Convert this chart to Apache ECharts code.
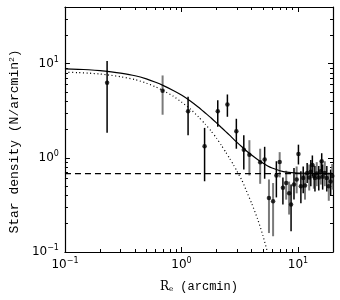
<!DOCTYPE html>
<html><head><meta charset="utf-8">
<script src="https://cdn.jsdelivr.net/npm/echarts@6/dist/echarts.min.js"></script>
<style>html,body{margin:0;padding:0;background:#fff}#c{width:340px;height:300px}</style>
</head><body><div id="c"></div>
<script>
// Observed radial bins (arcmin), star density and 1-sigma error bar ends
const radius  = [0.230,0.689,1.14,1.58,2.05,2.48,2.96,3.43,3.83,4.74,5.18,5.64,6.12,6.53,6.97,7.43,7.93,8.40,8.73,9.25,9.75,10.1,10.6,11.1,11.5,12.0,12.5,12.9,13.3,13.7,14.0,14.5,15.1,15.7,16.0,16.3,17.0,17.7,18.4,19.1,19.7];
const density = [6.28,5.16,3.13,1.33,3.13,3.69,1.92,1.22,1.08,0.90,0.96,0.375,0.345,0.65,0.906,0.48,0.54,0.42,0.32,0.52,0.59,1.10,0.50,0.61,0.51,0.69,0.62,0.71,0.84,0.64,0.61,0.68,0.62,0.72,0.92,0.63,0.69,0.61,0.50,0.56,0.64];
const errLow  = [1.85,2.87,1.74,0.564,2.14,2.73,1.25,0.75,0.65,0.53,0.60,0.159,0.147,0.38,0.62,0.32,0.36,0.25,0.166,0.36,0.42,0.85,0.33,0.42,0.36,0.54,0.45,0.50,0.64,0.47,0.44,0.50,0.45,0.52,0.70,0.46,0.50,0.44,0.35,0.40,0.46];
const errHigh = [10.7,7.5,4.46,2.08,4.10,4.71,2.60,1.74,1.54,1.25,1.31,0.59,0.54,0.92,1.15,0.62,0.73,0.56,0.52,0.78,0.81,1.38,0.72,0.81,0.70,0.88,0.85,0.95,1.06,0.85,0.82,0.90,0.82,0.95,1.12,0.85,0.92,0.82,0.70,0.75,0.86];
const barTone = ['k','g','k','k','k','k','k','k','g','g','k','g','g','k','g','k','g','g','k','k','g','k','k','k','g','k','g','k','k','g','k','g','k','g','k','k','g','k','g','k','g'];
// Fitted profile: King model + background (solid)
const fitR     = [0.1,0.13,0.16,0.2,0.25,0.3,0.4,0.5,0.6,0.7,0.85,1.0,1.2,1.4,1.6,1.8,2.0,2.2,2.4,2.6,2.8,3.0,3.3,3.6,4.0,4.5,5.0,5.5,6,7,8,10,14,20];
const fitTotal = [8.8,8.72,8.62,8.45,8.2,7.95,7.45,6.9,6.35,5.85,5.2,4.65,4.0,3.45,3.0,2.65,2.35,2.1,1.9,1.73,1.58,1.46,1.31,1.19,1.07,0.96,0.88,0.82,0.78,0.73,0.705,0.69,0.68,0.68];
// King model alone (dotted)
const kingR    = [0.1,0.13,0.16,0.2,0.25,0.3,0.4,0.5,0.6,0.7,0.85,1.0,1.2,1.4,1.6,1.8,2.0,2.2,2.4,2.6,2.8,3.0,3.3,3.6,4.0,4.5,5.0,5.5,6.0];
const kingOnly = [8.12,8.04,7.94,7.77,7.52,7.27,6.77,6.22,5.67,5.17,4.52,3.92,3.28,2.72,2.28,1.92,1.62,1.36,1.15,0.98,0.84,0.72,0.58,0.45,0.33,0.225,0.15,0.097,0.06];
// Background level (dashed)
const bgR = [0.1,20];
const bgLevel = [0.68,0.68];
// Axis ranges and tick positions
const xRange = [0.1,20];
const yRange = [0.1,40];
const majorTicks = [0.1,1,10];
const xMinorTicks = [0.2,0.3,0.4,0.5,0.6,0.7,0.8,0.9,2,3,4,5,6,7,8,9];
const yMinorTicks = [0.2,0.3,0.4,0.5,0.6,0.7,0.8,0.9,2,3,4,5,6,7,8,9,20,30];

const tickFont = 'DejaVu Sans';
function powLabel(v){
  const e = Math.log10(v), r = Math.round(e);
  if (Math.abs(e - r) > 1e-6) return '';
  return '{b|10}{s|' + (r < 0 ? '\u2212' + (-r) : r) + '}';
}
const labelRich = {
  b:{fontFamily:tickFont,fontSize:12,color:'#000',lineHeight:16},
  s:{fontFamily:tickFont,fontSize:8,color:'#000',verticalAlign:'top',lineHeight:16}
};
function baseAxis(range, pos, ticks, len, showLine){
  return {
    type:'log', logBase:10, min:range[0], max:range[1], position:pos,
    axisLine:{show:showLine,lineStyle:{color:'#000',width:1.2}},
    axisTick:{show:true,inside:true,length:len,customValues:ticks,lineStyle:{color:'#000',width:1}},
    minorTick:{show:false}, splitLine:{show:false}, minorSplitLine:{show:false},
    axisLabel:{show:false}
  };
}
const xMain = baseAxis(xRange,'bottom',majorTicks,5,true);
xMain.axisLabel = {show:true,customValues:majorTicks,formatter:powLabel,margin:5,rich:labelRich};
xMain.name = '{r|R}{e|e} (arcmin)';
xMain.nameLocation = 'middle';
xMain.nameGap = 29;
xMain.nameTextStyle = {fontFamily:'Liberation Mono',fontSize:12,color:'#000',
  rich:{r:{fontFamily:'DejaVu Serif',fontSize:12,color:'#000'},
        e:{fontFamily:'DejaVu Serif',fontSize:7,color:'#000',verticalAlign:'bottom'}}};
const yMain = baseAxis(yRange,'left',majorTicks,5,true);
yMain.axisLabel = {show:true,customValues:majorTicks,formatter:powLabel,margin:6,rich:labelRich};
yMain.name = 'Star density (N/arcmin{s|2})';
yMain.nameLocation = 'middle';
yMain.nameGap = 36;
yMain.nameTextStyle = {fontFamily:'Liberation Mono',fontSize:13,color:'#000',padding:[0,24,0,0],
  rich:{s:{fontFamily:'Liberation Mono',fontSize:8,color:'#000',verticalAlign:'top'}}};

const errData = radius.map((r,i)=>[r, errLow[i], errHigh[i], barTone[i]==='g'?1:0]);
const chart = echarts.init(document.getElementById('c'), null, {renderer:'canvas'});
chart.setOption({
  animation:false,
  backgroundColor:'#fff',
  grid:{left:58,right:7,top:7,bottom:48},
  xAxis:[xMain, baseAxis(xRange,'top',majorTicks,5,true),
         baseAxis(xRange,'bottom',xMinorTicks,3,false), baseAxis(xRange,'top',xMinorTicks,3,false)],
  yAxis:[yMain, baseAxis(yRange,'right',majorTicks,5,true),
         baseAxis(yRange,'left',yMinorTicks,3,false), baseAxis(yRange,'right',yMinorTicks,3,false)],
  series:[
    {type:'custom', xAxisIndex:0, yAxisIndex:0, encode:{x:0,y:[1,2]}, data:errData, z:2,
     renderItem:function(params, api){
       const a = api.coord([api.value(0), api.value(1)]);
       const b = api.coord([api.value(0), api.value(2)]);
       const gray = api.value(3) === 1;
       return {type:'line', shape:{x1:a[0],y1:a[1],x2:b[0],y2:b[1]},
               style:{stroke: gray ? '#7a7a7a' : '#000', lineWidth: gray ? 2 : 1.5}};
     }},
    {type:'line', data:bgR.map((r,i)=>[r,bgLevel[i]]), symbol:'none', z:3,
     lineStyle:{color:'#000',width:1.2,type:[6,4]}},
    {type:'line', data:kingR.map((r,i)=>[r,kingOnly[i]]), symbol:'none', smooth:0.2, z:3,
     lineStyle:{color:'#000',width:1.2,type:[1,2.6]}},
    {type:'line', data:fitR.map((r,i)=>[r,fitTotal[i]]), symbol:'none', smooth:0.2, z:3,
     lineStyle:{color:'#000',width:1.2}},
    {type:'scatter', data:radius.map((r,i)=>[r,density[i]]), symbol:'circle', symbolSize:4.5, z:4,
     itemStyle:{color:'#000'}}
  ]
});
</script></body></html>
